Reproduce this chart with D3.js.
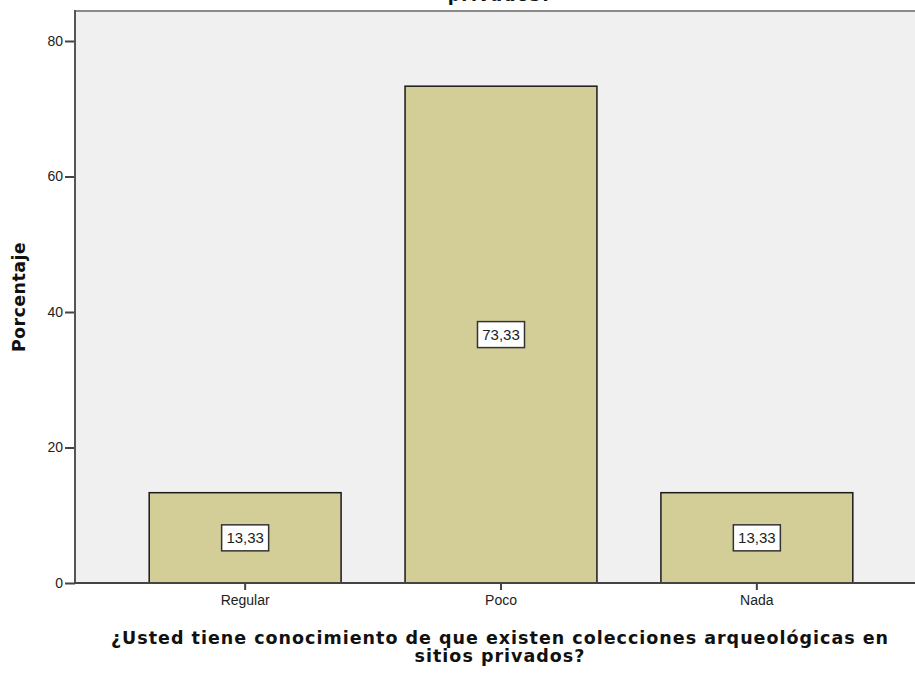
<!DOCTYPE html>
<html>
<head>
<meta charset="utf-8">
<script src="https://cdn.jsdelivr.net/npm/d3@7"></script>
<style>
  body { margin: 0; background: #fff; }
  svg { display: block; }
  text { font-family: "Liberation Sans", Arial, sans-serif; }
  .ttl { font-family: "DejaVu Sans", Verdana, sans-serif; font-weight: bold; }
</style>
</head>
<body>
<div id="root"></div>
<script>
const categories = ["Regular", "Poco", "Nada"]
const percentages = [13.33, 73.33, 13.33]
const yTicks = [0, 20, 40, 60, 80]
const titleLines = ["privados?"]
const xTitleLines = ["¿Usted tiene conocimiento de que existen colecciones arqueológicas en", "sitios privados?"]
const yTitle = "Porcentaje"

const w = 915, h = 673
const plot = {left: 75, right: 927, top: 11, bottom: 583}

const data = categories.map((c, i) => ({cat: c, value: percentages[i]}))

//scales
const x = d3.scaleBand()
    .domain(categories)
    .range([plot.left, plot.right])
    .paddingInner(0.25)
    .paddingOuter(0.29)

const y = d3.scaleLinear()
    .domain([0, 80])
    .range([plot.bottom, 41])

const svg = d3.select("#root").append("svg")
    .attr("width", w)
    .attr("height", h)

// plot background
svg.append("rect")
    .attr("x", plot.left)
    .attr("y", plot.top)
    .attr("width", plot.right - plot.left)
    .attr("height", plot.bottom - plot.top)
    .attr("fill", "#f0f0f0")

// top frame line
svg.append("line")
    .attr("x1", plot.left).attr("x2", w)
    .attr("y1", plot.top).attr("y2", plot.top)
    .attr("stroke", "#8a8a8a")
    .attr("stroke-width", 2)

// bars
svg.selectAll("rect.bar")
    .data(data)
    .join("rect")
    .attr("class", "bar")
    .attr("x", d => x(d.cat))
    .attr("y", d => y(d.value))
    .attr("width", x.bandwidth())
    .attr("height", d => y(0) - y(d.value))
    .attr("fill", "#d3ce97")
    .attr("stroke", "#1a1a1a")
    .attr("stroke-width", 1.5)

// value labels
const lab = svg.selectAll("g.lab")
    .data(data)
    .join("g")
    .attr("class", "lab")
    .attr("transform", d => `translate(${x(d.cat) + x.bandwidth() / 2},${(y(d.value) + y(0)) / 2})`)

lab.append("rect")
    .attr("x", -23.5)
    .attr("y", -13)
    .attr("width", 47)
    .attr("height", 26)
    .attr("fill", "#fff")
    .attr("stroke", "#333")
    .attr("stroke-width", 1.5)

lab.append("text")
    .attr("text-anchor", "middle")
    .attr("dy", "0.36em")
    .attr("font-size", 15)
    .attr("fill", "#222")
    .text(d => d.value.toFixed(2).replace(".", ","))

// y axis
const yAxis = svg.append("g")
    .attr("transform", `translate(${plot.left},0)`)
    .call(d3.axisLeft(y).tickValues(yTicks).tickSize(10).tickPadding(2))
yAxis.select(".domain").remove()
yAxis.selectAll(".tick line").attr("stroke", "#444").attr("stroke-width", 2)
yAxis.selectAll(".tick text").attr("font-size", 14).attr("fill", "#222")
    .attr("font-family", "Liberation Sans, Arial, sans-serif")

svg.append("line")
    .attr("x1", plot.left).attr("x2", plot.left)
    .attr("y1", plot.top - 1).attr("y2", plot.bottom)
    .attr("stroke", "#555")
    .attr("stroke-width", 2)

// x axis
const xAxis = svg.append("g")
    .attr("transform", `translate(0,${plot.bottom})`)
    .call(d3.axisBottom(x).tickSize(7).tickPadding(5))
xAxis.select(".domain").remove()
xAxis.selectAll(".tick line").attr("stroke", "#444").attr("stroke-width", 2)
xAxis.selectAll(".tick text").attr("font-size", 14).attr("fill", "#222")
    .attr("font-family", "Liberation Sans, Arial, sans-serif")

svg.append("line")
    .attr("x1", plot.left - 1).attr("x2", w)
    .attr("y1", plot.bottom).attr("y2", plot.bottom)
    .attr("stroke", "#444")
    .attr("stroke-width", 2)

// titles
const mid = (plot.left + plot.right) / 2 - 1

svg.selectAll("text.title")
    .data(titleLines)
    .join("text")
    .attr("class", "title ttl")
    .attr("x", mid)
    .attr("y", (d, i) => 1 + i * 18)
    .attr("text-anchor", "middle")
    .attr("font-size", 17.5)
    .attr("letter-spacing", 1)
    .attr("fill", "#111")
    .text(d => d)

svg.selectAll("text.xtitle")
    .data(xTitleLines)
    .join("text")
    .attr("class", "xtitle ttl")
    .attr("x", mid)
    .attr("y", (d, i) => 644 + i * 18)
    .attr("text-anchor", "middle")
    .attr("font-size", 17.5)
    .attr("letter-spacing", 1)
    .attr("fill", "#111")
    .text(d => d)

svg.append("text")
    .attr("class", "ttl")
    .attr("transform", `translate(25,${(plot.top + plot.bottom) / 2}) rotate(-90)`)
    .attr("text-anchor", "middle")
    .attr("font-size", 17.5)
    .attr("letter-spacing", 0.4)
    .attr("fill", "#111")
    .text(yTitle)
</script>
</body>
</html>
